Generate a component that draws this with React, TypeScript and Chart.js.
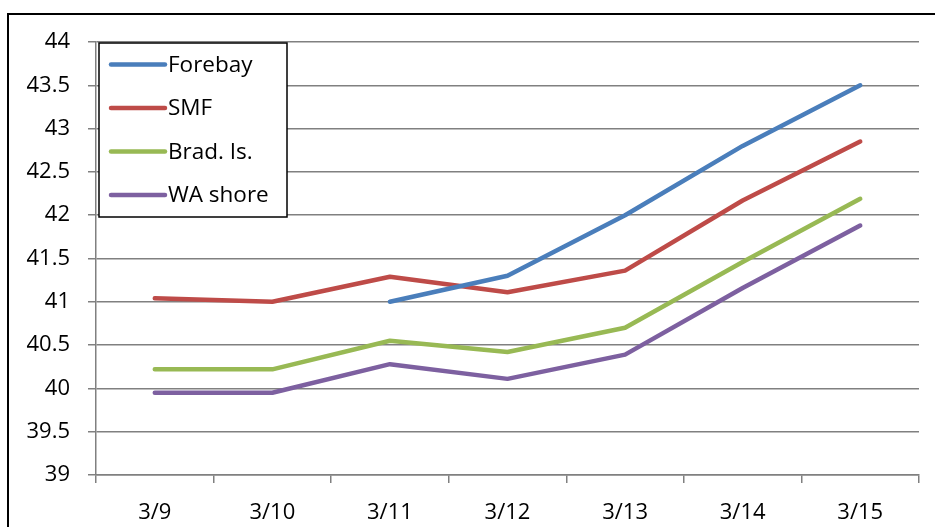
import React, { useEffect, useRef } from "react";
import { Chart, registerables } from "chart.js";

Chart.register(...registerables);

const categories = ["3/9", "3/10", "3/11", "3/12", "3/13", "3/14", "3/15"];
const forebay = [null, null, 41.0, 41.3, 42.0, 42.8, 43.5];
const smf = [41.04, 41.0, 41.29, 41.11, 41.36, 42.17, 42.85];
const bradIs = [40.22, 40.22, 40.55, 40.42, 40.7, 41.46, 42.19];
const waShore = [39.95, 39.95, 40.28, 40.11, 40.39, 41.16, 41.88];
const seriesNames = ["Forebay", "SMF", "Brad. Is.", "WA shore"];
const seriesColors = ["#4A7EBB", "#BE4B48", "#98B954", "#7D60A0"];
const yMin = 39;
const yMax = 44;
const yStep = 0.5;

const FONT = "'Open Sans', 'DejaVu Sans', sans-serif";

const framePlugin = {
  id: "frame",
  beforeDraw(chart: any) {
    const ctx = chart.ctx;
    ctx.save();
    ctx.fillStyle = "#fff";
    ctx.fillRect(0, 0, chart.width, chart.height);
    ctx.strokeStyle = "#000";
    ctx.lineWidth = 2;
    ctx.strokeRect(8, 14, chart.width + 20, chart.height + 20);
    ctx.restore();
  },
};

const legendPlugin = {
  id: "boxLegend",
  afterDraw(chart: any) {
    const ctx = chart.ctx;
    const x0 = 99;
    const y0 = 43;
    const w = 188;
    const h = 174;
    ctx.save();
    ctx.fillStyle = "#fff";
    ctx.fillRect(x0, y0, w, h);
    ctx.strokeStyle = "#000";
    ctx.lineWidth = 1.5;
    ctx.strokeRect(x0, y0, w, h);
    ctx.font = `22.5px ${FONT}`;
    ctx.textBaseline = "middle";
    ctx.textAlign = "left";
    chart.data.datasets.forEach((ds: any, i: number) => {
      const y = y0 + 21.5 + i * 43.5;
      ctx.strokeStyle = ds.borderColor;
      ctx.lineWidth = 4.5;
      ctx.lineCap = "round";
      ctx.beginPath();
      ctx.moveTo(x0 + 12, y);
      ctx.lineTo(x0 + 66, y);
      ctx.stroke();
      ctx.fillStyle = "#000";
      ctx.fillText(ds.label, x0 + 69, y + 1);
    });
    ctx.restore();
  },
};

export default function App() {
  const ref = useRef<HTMLCanvasElement>(null);

  useEffect(() => {
    if (!ref.current) return;
    const seriesData = [forebay, smf, bradIs, waShore];
    const chart = new Chart(ref.current, {
      type: "line",
      data: {
        labels: categories,
        datasets: seriesData.map((d, i) => ({
          label: seriesNames[i],
          data: d as any,
          borderColor: seriesColors[i],
          backgroundColor: seriesColors[i],
          borderWidth: 4.5,
          borderCapStyle: "round",
          borderJoinStyle: "round",
          pointRadius: 0,
          tension: 0,
          spanGaps: false,
        })),
      },
      options: {
        animation: false,
        responsive: false,
        layout: { padding: { left: 0, right: 16, top: 42, bottom: 0 } },
        plugins: {
          legend: { display: false },
          tooltip: { enabled: false },
        },
        scales: {
          x: {
            type: "category",
            offset: true,
            grid: {
              offset: true,
              drawOnChartArea: false,
              drawTicks: true,
              tickLength: 8,
              color: "#808080",
              lineWidth: 1.5,
            },
            border: { display: true, color: "#808080", width: 1.5 },
            ticks: {
              color: "#000",
              font: { family: FONT, size: 22 },
              padding: 17,
              maxRotation: 0,
            },
            afterFit(scale: any) {
              scale.height = 52;
            },
          },
          y: {
            min: yMin,
            max: yMax,
            ticks: {
              stepSize: yStep,
              color: "#000",
              font: { family: FONT, size: 22 },
              padding: 18,
              callback: (v: any) => String(v),
            },
            grid: {
              color: "#808080",
              lineWidth: 1.5,
              drawTicks: true,
              tickLength: 8,
            },
            border: { display: true, color: "#808080", width: 1.5 },
            afterFit(scale: any) {
              scale.width = 96;
            },
          },
        },
      },
      plugins: [framePlugin, legendPlugin],
    });
    return () => chart.destroy();
  }, []);

  return (
    <div style={{ position: "fixed", left: 0, top: 0, width: 935, height: 527 }}>
      <canvas ref={ref} width={935} height={527} />
    </div>
  );
}
